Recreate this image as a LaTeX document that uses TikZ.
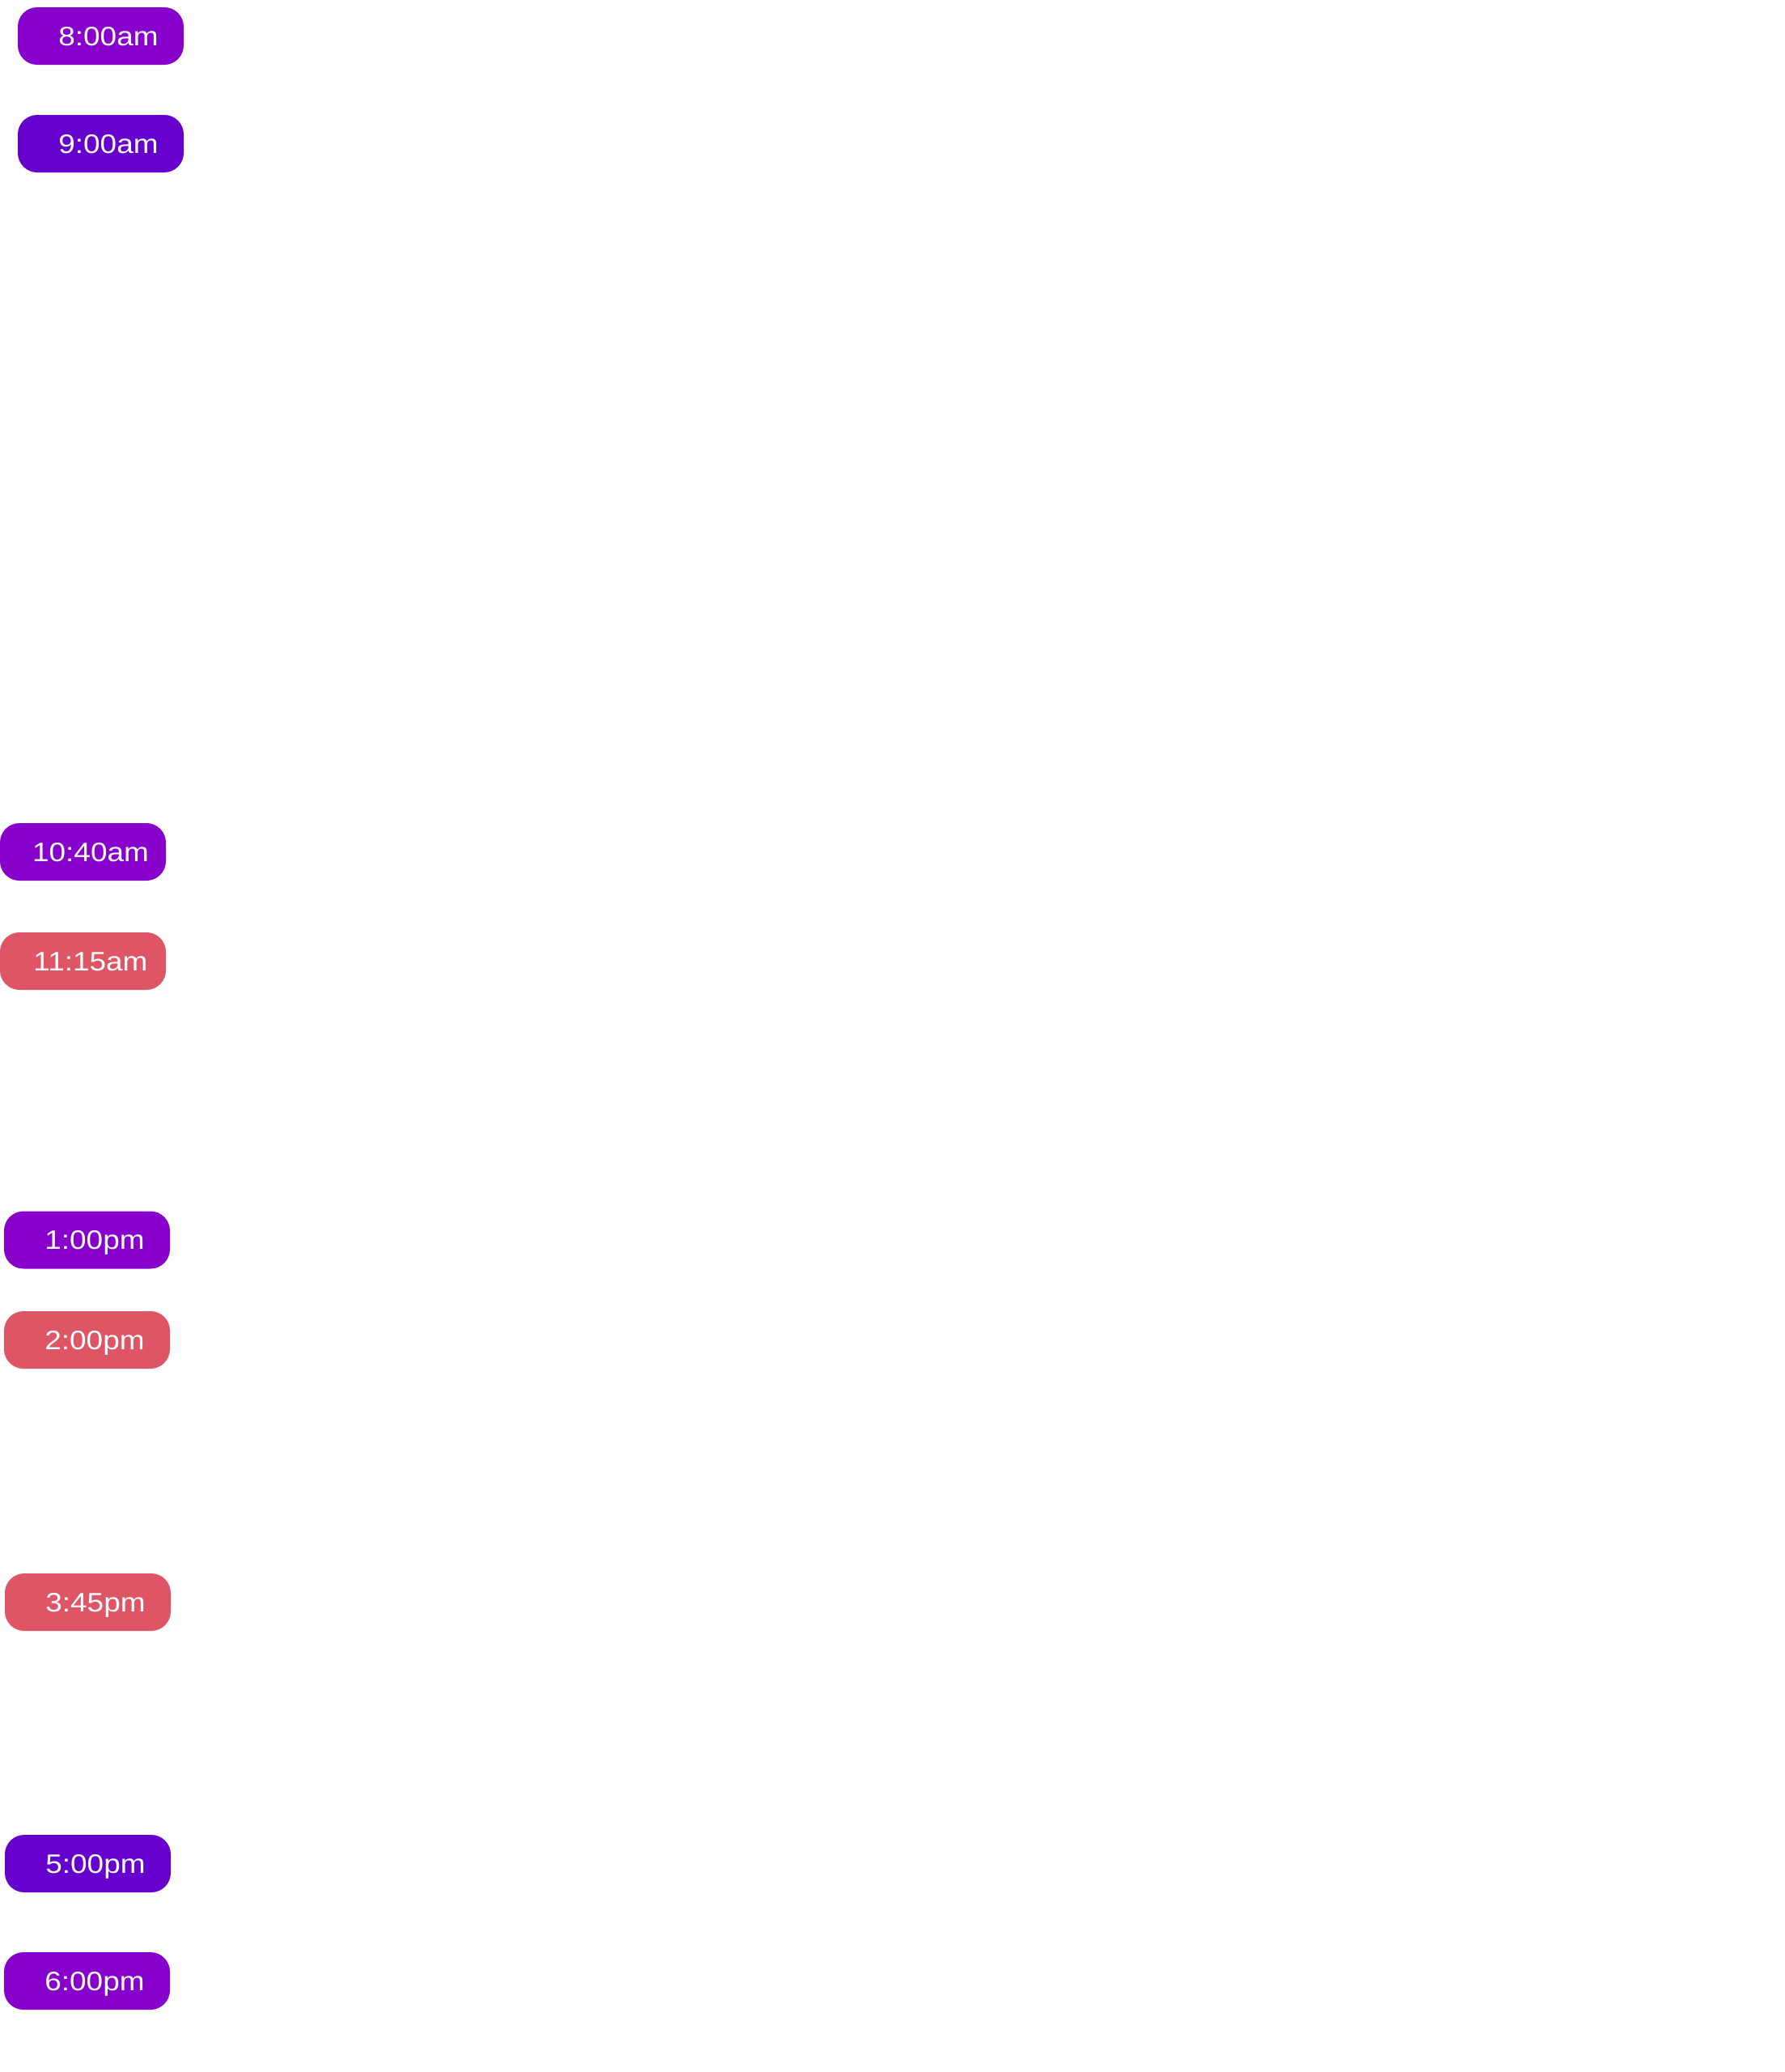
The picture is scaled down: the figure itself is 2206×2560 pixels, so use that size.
\documentclass[tikz,border=0pt]{standalone}
\usepackage{fontspec}
\setmainfont{Liberation Sans}[FakeStretch=1.12]
\definecolor{pillviolet}{HTML}{8800CC}
\definecolor{pilldeep}{HTML}{6600CC}
\definecolor{pillred}{HTML}{DE5665}
\tikzset{
  pill/.style={rounded corners=24pt, minimum width=205pt, minimum height=71pt, inner sep=0pt, draw=none, fill=#1},
  pilltext/.style={text=white, anchor=base, inner sep=0pt, font=\fontsize{33}{40}\selectfont}
}
\begin{document}
\begin{tikzpicture}[x=1pt,y=1pt]
\useasboundingbox[fill=white] (0,0) rectangle (2206,-2560);
\newcommand{\mypill}[5]{%
  \node[pill=#4] (#1) at (#2,-#3) {};
  \node[pilltext] (#1t) at ([xshift=9.5pt,yshift=-11.5pt]#1.center) {#5};
}
\mypill{p1}{124.5}{44.5}{pillviolet}{8:00am}
\mypill{p2}{124.5}{177.5}{pilldeep}{9:00am}
\mypill{p3}{102.5}{1052.5}{pillviolet}{10:40am}
\mypill{p4}{102.5}{1187.5}{pillred}{11:15am}
\mypill{p5}{107.5}{1532}{pillviolet}{1:00pm}
\mypill{p6}{107.5}{1655.5}{pillred}{2:00pm}
\mypill{p7}{108.5}{1979.5}{pillred}{3:45pm}
\mypill{p8}{108.5}{2302.5}{pilldeep}{5:00pm}
\mypill{p9}{107.5}{2447.5}{pillviolet}{6:00pm}
\end{tikzpicture}
\end{document}
